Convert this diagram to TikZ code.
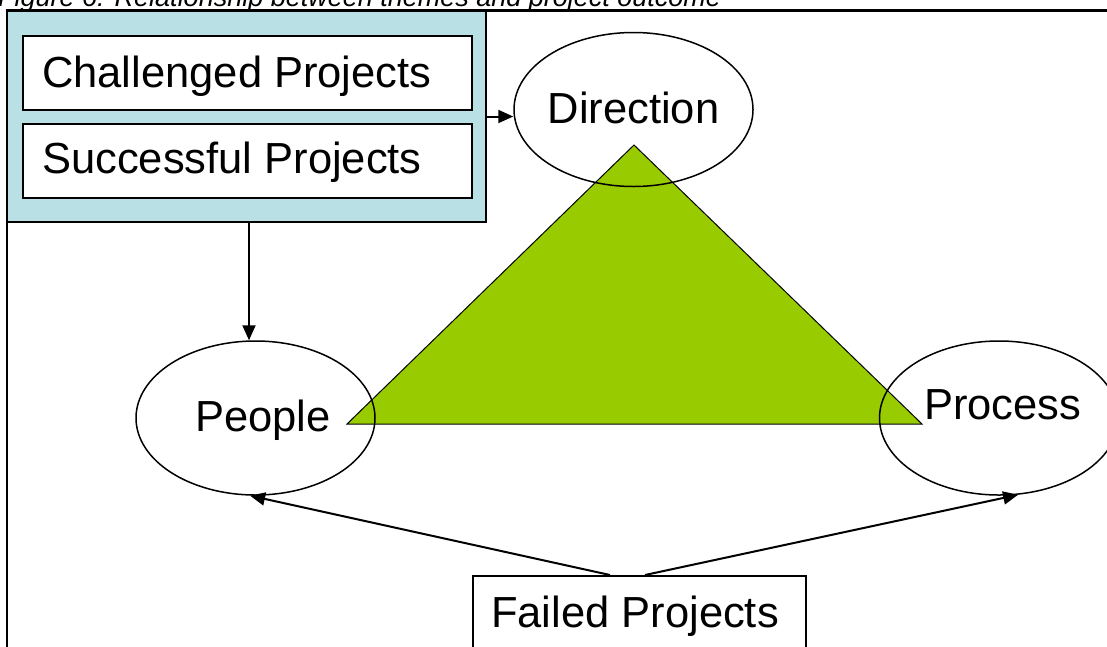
\documentclass[tikz,border=0pt]{standalone}
\usepackage{fontspec}
\setmainfont{Liberation Sans}
\usetikzlibrary{shapes.geometric,arrows.meta}
\definecolor{panelblue}{RGB}{185,224,228}
\definecolor{leafgreen}{RGB}{153,204,0}
\begin{document}
\begin{tikzpicture}[x=1pt,y=-1pt,
  bigtext/.style={font=\fontsize{43.5pt}{52pt}\selectfont, inner sep=0pt},
  theme/.style={ellipse, draw, line width=1.5pt, minimum width=239pt, minimum height=154pt, inner sep=0pt},
  outcome/.style={rectangle, draw, line width=2pt, fill=white, inner sep=0pt},
  link/.style={line width=2pt, -{Triangle[length=15pt,width=13pt]}},
]
\clip (0,0) rectangle (1107,646);

% figure caption, partly above the page edge
\node[anchor=base west, inner sep=0pt, font=\fontsize{27pt}{32pt}\selectfont\itshape] (caption)
  at (-2,6.5) {Figure 6: Relationship between themes and project outcome};

% outer frame
\draw[line width=2.5pt] (7,700) -- (7,10.5) -- (1150,10.5);

% grouped outcomes panel
\node[draw, fill=panelblue, line width=1.5pt, minimum width=479pt, minimum height=211pt, inner sep=0pt]
  (panel) at (246.5,116.5) {};
\node[outcome, minimum width=449pt, minimum height=74pt] (challenged) at (247.5,73) {};
\node[outcome, minimum width=449pt, minimum height=74pt] (successful) at (247.5,161) {};
\node[bigtext, anchor=base west] (challengedtext) at (42,87) {Challenged Projects};
\node[bigtext, anchor=base west] (successfultext) at (42,173) {Successful Projects};

% theme triangle
\draw[fill=leafgreen, line width=1pt] (634,145) -- (922,424) -- (347,424) -- cycle;

% themes
\node[theme] (direction) at (633.5,109.5) {};
\node[theme] (people) at (255.5,418) {};
\node[theme] (process) at (999,418) {};
\node[bigtext, anchor=base] (directiontext) at (633.5,123) {Direction};
\node[bigtext, anchor=base west] (peopletext) at (195,431) {People};
\node[bigtext, anchor=base west] (processtext) at (924,419) {Process};

% failed outcome
\node[outcome, minimum width=333pt, minimum height=76pt] (failed) at (639.5,614) {};
\node[bigtext, anchor=base west] (failedtext) at (491,627) {Failed Projects};

% connectors
\coordinate (peopletop) at ([xshift=-6.5pt]people.north);
\draw[link] (panel.south -| peopletop) -- (peopletop);
\draw[link] (panel.east) -- (panel.east -| direction.west);
\coordinate (failleft) at ([xshift=-29.5pt]failed.north);
\coordinate (failright) at ([xshift=5.5pt]failed.north);
\draw[link] (failleft) -- (people.-94);
\draw[link] (failright) -- (process.-76);
\end{tikzpicture}
\end{document}
